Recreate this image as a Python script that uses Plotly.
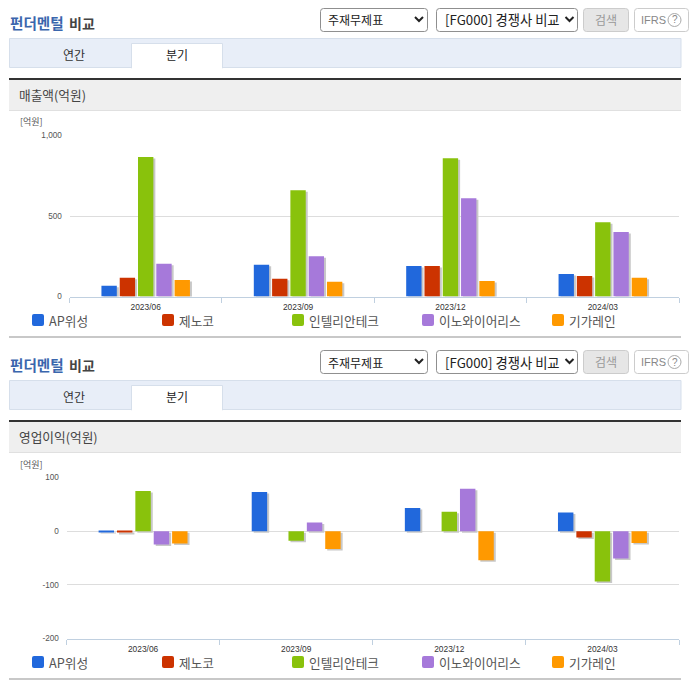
import plotly.graph_objects as go

W, H = 696, 684

quarters = ["2023/06", "2023/09", "2023/12", "2024/03"]
companies = ["AP위성", "제노코", "인텔리안테크", "이노와이어리스", "기가레인"]
colors = ["#2168dc", "#cc3300", "#89c20c", "#a679da", "#ff9900"]

ap_sales = [66, 197, 190, 140]
zenoco_sales = [116, 110, 190, 128]
intellian_sales = [867, 660, 858, 461]
innowireless_sales = [203, 250, 610, 401]
gigalane_sales = [103, 91, 97, 116]

ap_profit = [-1, 73, 43, 35]
zenoco_profit = [-2, None, None, -12]
intellian_profit = [75, -18, 36, -94]
innowireless_profit = [-25, 16, 79, -51]
gigalane_profit = [-23, -33, -54, -22]

sales_ticks = [0, 500, 1000]
sales_tick_text = ["0", "500", "1,000"]
profit_ticks = [-200, -100, 0, 100]
profit_tick_text = ["-200", "-100", "0", "100"]

title_blue = "펀더멘털"
title_dark = "비교"
tab_labels = ["연간", "분기"]
select_labels = ["주재무제표", "[FG000] 경쟁사 비교"]
section_titles = ["매출액(억원)", "영업이익(억원)"]
unit_label = "[억원]"

KR = "Noto Sans CJK KR, sans-serif"
LAT = "Liberation Sans, Arial, sans-serif"

px = lambda x: x / W
py = lambda y: 1 - y / H


def rect(x0, y0, x1, y1, fill, line=None, lw=1):
    return dict(type="rect", xref="paper", yref="paper", x0=px(x0), x1=px(x1), y0=py(y0), y1=py(y1),
                fillcolor=fill, line=dict(color=line, width=lw) if line else dict(width=0), layer="below")


def rrect(x0, y0, x1, y1, r, fill, line=None, lw=1):
    k = lambda x, y: f"{px(x):.5f},{py(y):.5f}"
    p = (f"M{k(x0 + r, y0)} L{k(x1 - r, y0)} Q{k(x1, y0)} {k(x1, y0 + r)} L{k(x1, y1 - r)} "
         f"Q{k(x1, y1)} {k(x1 - r, y1)} L{k(x0 + r, y1)} Q{k(x0, y1)} {k(x0, y1 - r)} "
         f"L{k(x0, y0 + r)} Q{k(x0, y0)} {k(x0 + r, y0)} Z")
    return dict(type="path", xref="paper", yref="paper", path=p, fillcolor=fill,
                line=dict(color=line, width=lw) if line else dict(width=0), layer="below")


def polyline(pts, color, lw):
    p = "M" + " L".join(f"{px(x):.5f},{py(y):.5f}" for x, y in pts)
    return dict(type="path", xref="paper", yref="paper", path=p, line=dict(color=color, width=lw), layer="above")


def text(x, y, s, size, color, anchor="left", family=KR, weight="normal"):
    return dict(xref="paper", yref="paper", x=px(x), y=py(y), text=s, showarrow=False, xanchor=anchor,
                yanchor="middle", font=dict(size=size, color=color, family=family, weight=weight),
                borderpad=0, borderwidth=0)


shapes, annotations = [], []

for dy, section in [(0, section_titles[0]), (342, section_titles[1])]:
    annotations += [text(10, 23 + dy, title_blue, 14.6, "#3a66ad", weight="bold"),
                    text(69, 23 + dy, title_dark, 14, "#444444", weight="bold")]
    # selects and buttons
    shapes += [rrect(320.5, 8.5 + dy, 427.5, 31.5 + dy, 3, "#ffffff", "#8f8f8f"),
               rrect(436.5, 8.5 + dy, 577.5, 31.5 + dy, 3, "#ffffff", "#8f8f8f"),
               rrect(583.5, 8.5 + dy, 628.5, 31.5 + dy, 3, "#e6e6e6", "#cccccc"),
               rrect(634.5, 8.5 + dy, 688.5, 31.5 + dy, 3, "#ffffff", "#cccccc"),
               polyline([(415, 17 + dy), (419, 21 + dy), (423, 17 + dy)], "#222222", 2),
               polyline([(565.5, 17 + dy), (569.5, 21 + dy), (573.5, 17 + dy)], "#222222", 2),
               dict(type="circle", xref="paper", yref="paper", x0=px(668), x1=px(681), y0=py(13.5 + dy), y1=py(26.5 + dy),
                    line=dict(color="#aaaaaa", width=1), layer="above")]
    annotations += [text(328, 20 + dy, select_labels[0], 12, "#222222"),
                    text(445, 20 + dy, select_labels[1], 13.3, "#222222"),
                    text(606, 19.5 + dy, "검색", 12, "#999999", "center"),
                    text(641, 20 + dy, "IFRS", 11, "#888888", family=LAT),
                    text(674.5, 20 + dy, "?", 10, "#888888", "center", LAT)]
    # tabs
    shapes += [rect(9.5, 38.5 + dy, 681, 67.5 + dy, "#e8eef8", "#d6dfeb"),
               rect(131.5, 43.5 + dy, 222.5, 68 + dy, "#ffffff", "#d6dfeb"),
               rect(132, 66 + dy, 222, 69 + dy, "#ffffff"),
               rect(9, 78 + dy, 681, 80 + dy, "#333333"),
               rect(9, 80 + dy, 681, 110 + dy, "#efefef"),
               rect(9, 110 + dy, 681, 111 + dy, "#e0e0e0"),
               rect(9, 336 + dy, 681, 338 + dy, "#c8c8c8")]
    annotations += [text(74, 54 + dy, tab_labels[0], 12, "#333333", "center"),
                    text(177, 55 + dy, tab_labels[1], 12, "#222222", "center"),
                    text(19, 95 + dy, section, 12.7, "#444444"),
                    text(20, 122 + dy, unit_label, 9, "#555555")]
    # legend
    for i, (name, c) in enumerate(zip(companies, colors)):
        x = 32 + 130 * i
        shapes.append(rrect(x, 314 + dy, x + 12, 326 + dy, 2, c))
        annotations.append(text(x + 17, 320 + dy, name, 12.7, "#555555"))

fig = go.Figure()

sales = [ap_sales, zenoco_sales, intellian_sales, innowireless_sales, gigalane_sales]
profit = [ap_profit, zenoco_profit, intellian_profit, innowireless_profit, gigalane_profit]

for series, n in [(sales, ""), (profit, "3")]:
    n2 = "2" if n == "" else "4"
    for vals, name in zip(series, companies):
        fig.add_trace(go.Bar(x=quarters, y=vals, name=name, xaxis="x" + n, yaxis="y" + n, showlegend=False,
                             marker=dict(color="#c8c8c8", line=dict(width=0)), hoverinfo="skip"))
    for vals, name, c in zip(series, companies, colors):
        fig.add_trace(go.Bar(x=quarters, y=vals, name=name, xaxis="x" + n2, yaxis="y" + n2, showlegend=False,
                             marker=dict(color=c, line=dict(width=0))))


def axes(xl, xr, yt, yb, ymin, ymax, ticks, tick_text, first):
    """Labelled overlay axes plus pixel-shifted ones that carry the bar shadows."""
    dom_x = [px(xl), px(xr)]
    dom_y = [py(yb), py(yt)]
    dx = 2 / ((xr - xl) / 4)
    dy = 1.5 * (ymax - ymin) / (yb - yt)
    sx, sy, rx, ry = first, first, first + 1, first + 1
    sname = lambda a, i: f"{a}axis{'' if i == 1 else i}"
    ref = lambda a, i: f"{a}{'' if i == 1 else i}"
    return {
        sname("x", sx): dict(domain=dom_x, anchor=ref("y", sy), type="category", categoryorder="array",
                             categoryarray=quarters, range=[-0.5 - dx, 3.5 - dx], visible=False, fixedrange=True,
                             automargin=False),
        sname("y", sy): dict(domain=dom_y, anchor=ref("x", sx), range=[ymin + dy, ymax + dy], visible=False,
                             fixedrange=True, automargin=False),
        sname("x", rx): dict(domain=dom_x, anchor=ref("y", ry), overlaying=ref("x", sx), type="category",
                             categoryorder="array", categoryarray=quarters, range=[-0.5, 3.5], showgrid=False,
                             showline=True, linecolor="#c0d0e0", linewidth=1, ticks="outside", ticklen=5,
                             tickcolor="#c0d0e0", tickson="boundaries", tickangle=0, fixedrange=True,
                             ticklabelstandoff=2,
                             tickfont=dict(size=8.4, color="#333333", family=LAT), zeroline=False, automargin=False),
        sname("y", ry): dict(domain=dom_y, anchor=ref("x", rx), overlaying=ref("y", sy), range=[ymin, ymax],
                             tickmode="array", tickvals=ticks, ticktext=tick_text, showgrid=True, gridcolor="#dddddd",
                             gridwidth=1, zeroline=False, showline=False, ticks="outside", ticklen=5,
                             tickcolor="rgba(0,0,0,0)", fixedrange=True, automargin=False,
                             tickfont=dict(size=8.2, color="#555555", family=LAT)),
    }


layout_axes = {}
layout_axes.update(axes(69.5, 679, 135.5, 296.5, 0, 1000, sales_ticks, sales_tick_text, 1))
layout_axes.update(axes(66.5, 679, 477.5, 638.5, -200, 100, profit_ticks, profit_tick_text, 3))

fig.update_layout(template="none", width=W, height=H, margin=dict(l=0, r=0, t=0, b=0, pad=0), autosize=False,
                  paper_bgcolor="#ffffff", plot_bgcolor="rgba(0,0,0,0)", barmode="group", bargap=0.4,
                  bargroupgap=0.16, showlegend=False, shapes=shapes, annotations=annotations,
                  font=dict(family=KR), **layout_axes)

fig.write_html("out.html", config=dict(displayModeBar=False),
               post_script="document.body.style.margin='0';document.body.style.overflow='hidden';")
